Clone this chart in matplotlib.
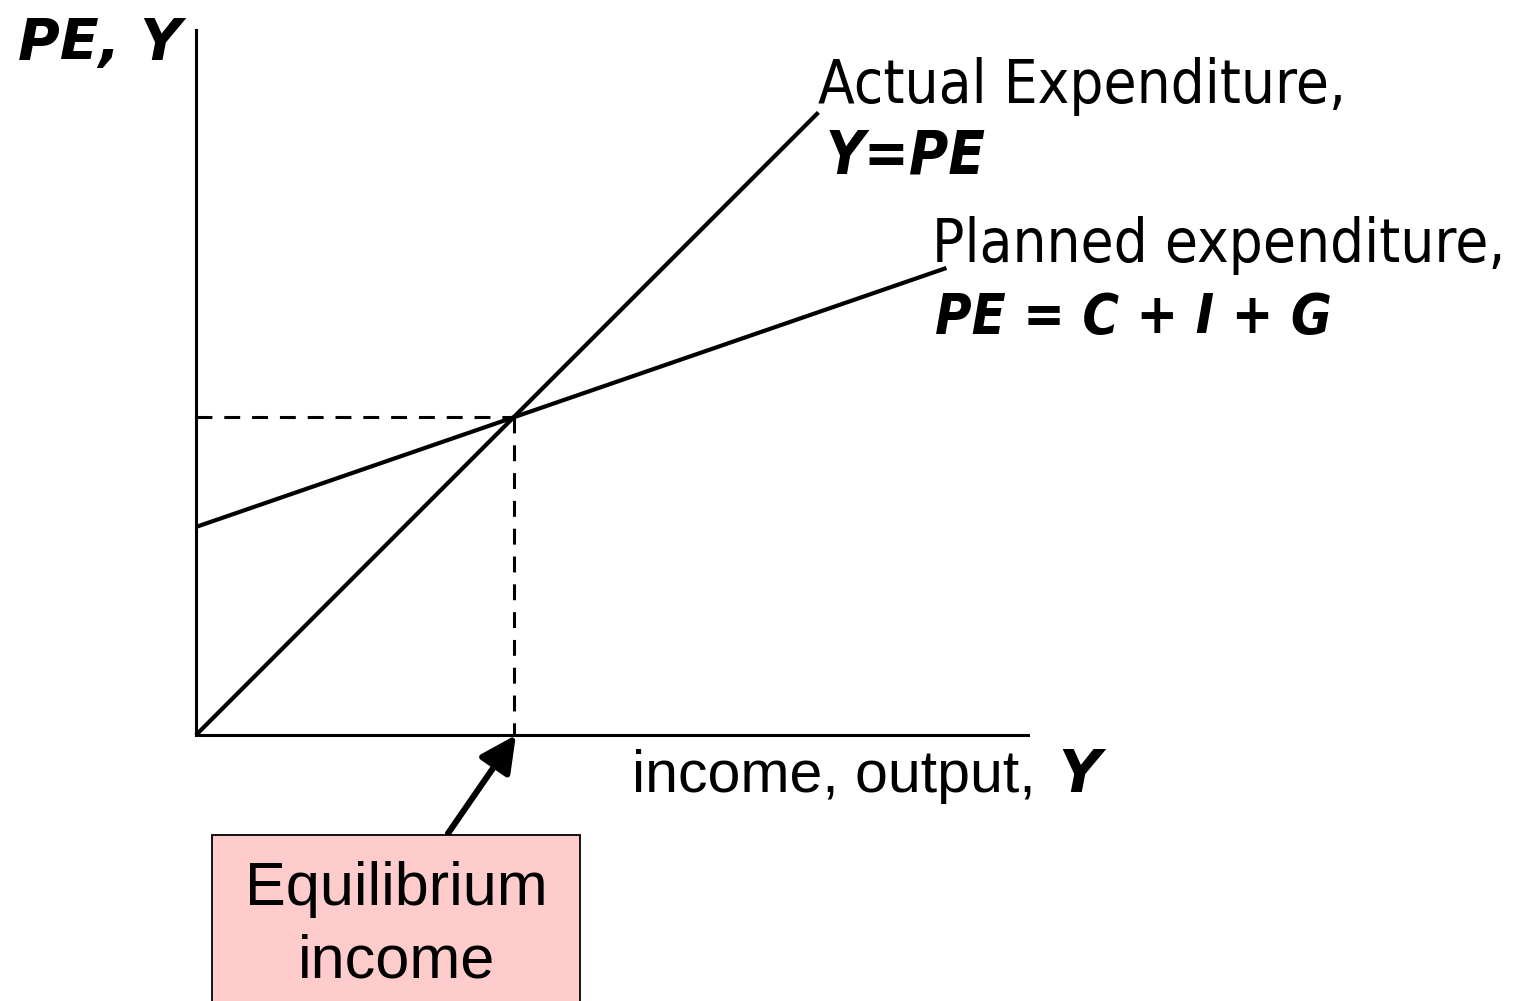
import matplotlib
matplotlib.use("Agg")
import matplotlib.pyplot as plt
from matplotlib.patches import Rectangle

# ── Data (abstract units, 1 unit ≈ 80 px) ─────────────────────────────────────
x_max = 10.4
y_max = 8.81

actual_x = [0.0, 7.78]          # Y = PE, 45-degree line
actual_y = [0.0, 7.78]

autonomous = 2.6                # C + I + G intercept
mpc = 0.345
planned_x = [0.0, 9.38]
planned_y = [autonomous, autonomous + mpc * 9.38]

x_eq = autonomous / (1 - mpc)
y_eq = x_eq

W, H = 1519, 1001


def px(x, y):
    """pixel position -> figure fraction"""
    return x / W, 1 - y / H


fig = plt.figure(figsize=(W / 100, H / 100), dpi=100)
fig.patch.set_facecolor("white")
ax = fig.add_axes([196 / W, 1 - 735 / H, (1028 - 196) / W, (735 - 30) / H])
ax.set_xlim(0, x_max)
ax.set_ylim(0, y_max)
ax.set_xticks([])
ax.set_yticks([])
ax.spines["top"].set_visible(False)
ax.spines["right"].set_visible(False)
for s in ("left", "bottom"):
    ax.spines[s].set_linewidth(2.2)
    ax.spines[s].set_color("black")
ax.patch.set_alpha(0)

ax.plot(actual_x, actual_y, color="black", lw=3.0, clip_on=False,
        solid_capstyle="butt")
ax.plot(planned_x, planned_y, color="black", lw=3.0, clip_on=False,
        solid_capstyle="butt")

dash = (0, (5.2, 3.9))
ax.plot([0, x_eq], [y_eq, y_eq], color="black", lw=2.2, ls=dash, clip_on=False)
ax.plot([x_eq, x_eq], [y_eq, 0], color="black", lw=2.2, ls=dash, clip_on=False)

# arrow from the box up to the equilibrium income
ax.annotate("", xy=(x_eq + 0.03, 0.0), xytext=(3.15, -1.23),
            xycoords="data", textcoords="data", annotation_clip=False,
            arrowprops=dict(arrowstyle="-|>,head_length=1.1,head_width=0.55",
                            lw=4.4, color="black", mutation_scale=20,
                            shrinkA=0, shrinkB=0))

# pink box
x0, y0 = px(212, 1004)
x1, y1 = px(580, 835)
fig.patches.append(Rectangle((x0, y0), x1 - x0, y1 - y0,
                             transform=fig.transFigure, facecolor="#FFCCCC",
                             edgecolor="black", lw=1.3, zorder=1))

sans = ["Liberation Sans", "DejaVu Sans"]
tah = ["DejaVu Sans"]

fig.text(*px(396, 905), "Equilibrium", family=sans, fontsize=44,
         ha="center", va="baseline")
fig.text(*px(396, 977), "income", family=sans, fontsize=44,
         ha="center", va="baseline")

fig.text(*px(632, 792), "income, output,", family=sans, fontsize=42.5,
         ha="left", va="baseline")
fig.text(*px(1058, 792), "Y", family=tah, fontsize=42, fontweight="bold",
         fontstyle="italic", ha="left", va="baseline")

fig.text(*px(18, 60), "PE, Y", family=tah, fontsize=41, fontweight="bold",
         fontstyle="italic", ha="left", va="baseline")

fig.text(*px(818, 103), "Actual Expenditure,", family=tah, fontsize=43,
         fontstretch="condensed", ha="left", va="baseline")
fig.text(*px(826, 173), "Y=PE", family=tah, fontsize=43, fontweight="bold",
         fontstyle="italic", fontstretch="condensed", ha="left", va="baseline")
fig.text(*px(932, 262), "Planned expenditure,", family=tah, fontsize=43,
         fontstretch="condensed", ha="left", va="baseline")
fig.text(*px(935, 333), "PE = C + I + G", family=tah, fontsize=40,
         fontweight="bold", fontstyle="italic", fontstretch="condensed",
         ha="left", va="baseline")

fig.savefig("out.png", dpi=100)
